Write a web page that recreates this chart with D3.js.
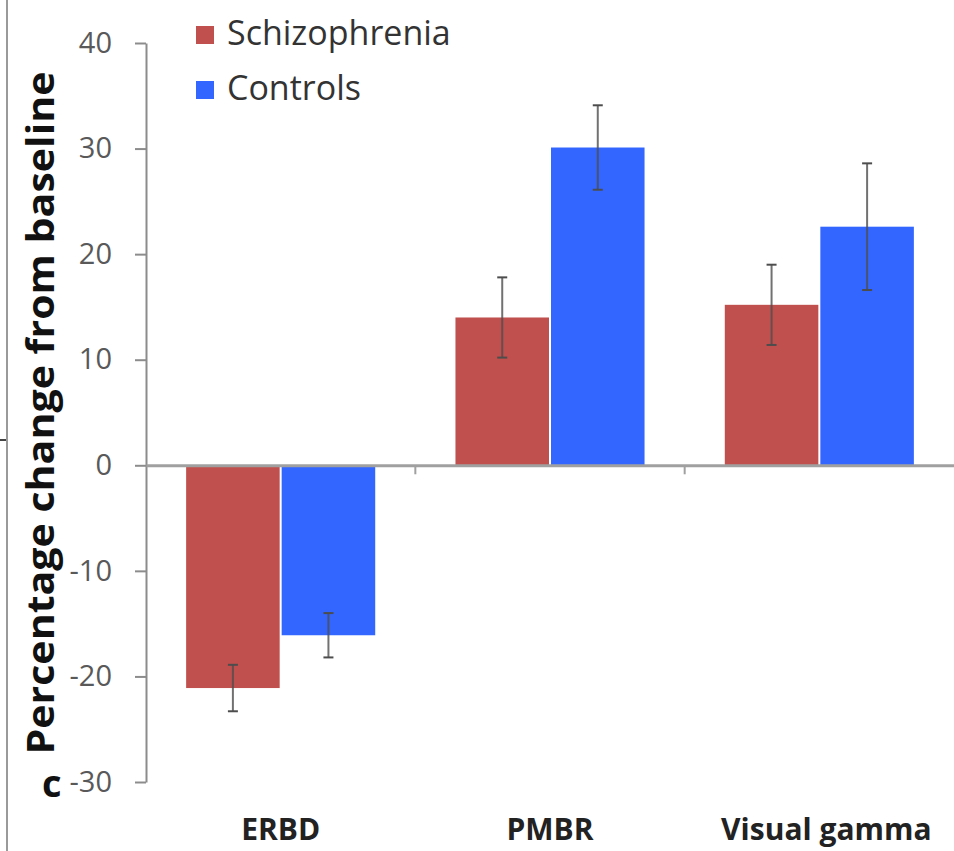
<!DOCTYPE html>
<html>
<head>
<meta charset="utf-8">
<script src="https://cdn.jsdelivr.net/npm/d3@7"></script>
<style>
  body { margin: 0; background: #fff; }
  text { font-family: "Open Sans", sans-serif; }
</style>
</head>
<body>
<script>
const categories = ["ERBD", "PMBR", "Visual gamma"];
const seriesNames = ["Schizophrenia", "Controls"];
const schizophrenia = [-21.1, 14.0, 15.2];
const schizophreniaErr = [2.2, 3.8, 3.8];
const controls = [-16.1, 30.1, 22.6];
const controlsErr = [2.1, 4.0, 6.0];
const yTicks = [-30, -20, -10, 0, 10, 20, 30, 40];

const colors = { Schizophrenia: "#c0504d", Controls: "#3366ff" };

const width = 954, height = 851;

const svg = d3.select("body")
  .append("svg")
  .attr("width", width)
  .attr("height", height);

// frame line on the left edge
svg.append("line")
  .attr("x1", 7).attr("x2", 7)
  .attr("y1", 0).attr("y2", height)
  .attr("stroke", "#9a9a9a")
  .attr("stroke-width", 2);
svg.append("line")
  .attr("x1", 0).attr("x2", 6)
  .attr("y1", 440).attr("y2", 440)
  .attr("stroke", "#444")
  .attr("stroke-width", 2);

const y = d3.scaleLinear()
  .domain([-30, 40])
  .range([782, 43]);

const x0 = d3.scaleBand()
  .domain(categories)
  .range([146, 954]);

const x1 = d3.scaleBand()
  .domain(seriesNames)
  .range([0, x0.bandwidth()])
  .paddingInner(0.021)
  .paddingOuter(0.42);

const data = categories.map((c, i) => ({
  category: c,
  values: [
    { name: "Schizophrenia", value: schizophrenia[i], err: schizophreniaErr[i] },
    { name: "Controls", value: controls[i], err: controlsErr[i] }
  ]
}));

// y axis
const yAxis = svg.append("g")
  .attr("transform", "translate(146,0)")
  .call(d3.axisLeft(y)
    .tickValues(yTicks)
    .tickFormat(d => String(d))
    .tickSize(11)
    .tickSizeOuter(0)
    .tickPadding(23));
yAxis.select(".domain").attr("stroke", "#8c8c8c").attr("stroke-width", 2);
yAxis.selectAll(".tick line").attr("stroke", "#8c8c8c").attr("stroke-width", 2);
yAxis.selectAll(".tick text")
  .attr("fill", "#595959")
  .style("font-size", "29px")
  .style("font-family", "'Open Sans', sans-serif");

const groups = svg.selectAll(".group")
  .data(data)
  .enter()
  .append("g")
  .attr("transform", d => "translate(" + x0(d.category) + ",0)");

groups.selectAll("rect")
  .data(d => d.values)
  .enter()
  .append("rect")
  .attr("x", d => x1(d.name))
  .attr("y", d => y(Math.max(0, d.value)))
  .attr("width", x1.bandwidth())
  .attr("height", d => Math.abs(y(d.value) - y(0)))
  .attr("fill", d => colors[d.name]);

// error bars
const eb = groups.selectAll(".err")
  .data(d => d.values)
  .enter()
  .append("g")
  .attr("stroke", "#4d4d4d")
  .attr("stroke-width", 2);
eb.append("line")
  .attr("x1", d => x1(d.name) + x1.bandwidth() / 2)
  .attr("x2", d => x1(d.name) + x1.bandwidth() / 2)
  .attr("y1", d => y(d.value + d.err))
  .attr("y2", d => y(d.value - d.err))
  .attr("stroke-opacity", 0.8);
eb.selectAll(".cap")
  .data(d => [d.value + d.err, d.value - d.err].map(v => ({ v: v, name: d.name })))
  .enter()
  .append("line")
  .attr("x1", d => x1(d.name) + x1.bandwidth() / 2 - 5)
  .attr("x2", d => x1(d.name) + x1.bandwidth() / 2 + 5)
  .attr("y1", d => y(d.v))
  .attr("y2", d => y(d.v));

// x axis at zero
const xAxis = svg.append("g")
  .attr("transform", "translate(0," + y(0) + ")")
  .call(d3.axisBottom(x0).tickSize(0).tickFormat(""));
xAxis.select(".domain").attr("stroke", "#a0a0a0").attr("stroke-width", 3);
svg.selectAll(".catTick")
  .data(categories.slice(1))
  .enter()
  .append("line")
  .attr("x1", d => x0(d)).attr("x2", d => x0(d))
  .attr("y1", y(0)).attr("y2", y(0) + 9)
  .attr("stroke", "#a0a0a0")
  .attr("stroke-width", 2);

// category labels
svg.selectAll(".catLabel")
  .data(categories)
  .enter()
  .append("text")
  .attr("x", d => x0(d) + x0.bandwidth() / 2 + (d === "Visual gamma" ? 7 : 0))
  .attr("y", 840)
  .attr("text-anchor", "middle")
  .attr("fill", "#222")
  .style("font-size", "30px")
  .style("font-weight", "bold")
  .text(d => d);

// y title
svg.append("text")
  .attr("transform", "translate(54,413) rotate(-90)")
  .attr("text-anchor", "middle")
  .attr("fill", "#111")
  .attr("textLength", 683)
  .attr("lengthAdjust", "spacingAndGlyphs")
  .style("font-size", "37px")
  .style("font-weight", "bold")
  .text("Percentage change from baseline");

svg.append("text")
  .attr("x", 42)
  .attr("y", 797)
  .attr("fill", "#111")
  .style("font-size", "38px")
  .style("font-weight", "bold")
  .text("c");

// legend
const legend = svg.selectAll(".legend")
  .data(seriesNames)
  .enter()
  .append("g")
  .attr("transform", (d, i) => "translate(196," + (26 + i * 55) + ")");
legend.append("rect")
  .attr("width", 18)
  .attr("height", 18)
  .attr("fill", d => colors[d]);
legend.append("text")
  .attr("x", 31)
  .attr("y", 19)
  .attr("fill", "#333")
  .style("font-size", "34px")
  .text(d => d);
</script>
</body>
</html>
